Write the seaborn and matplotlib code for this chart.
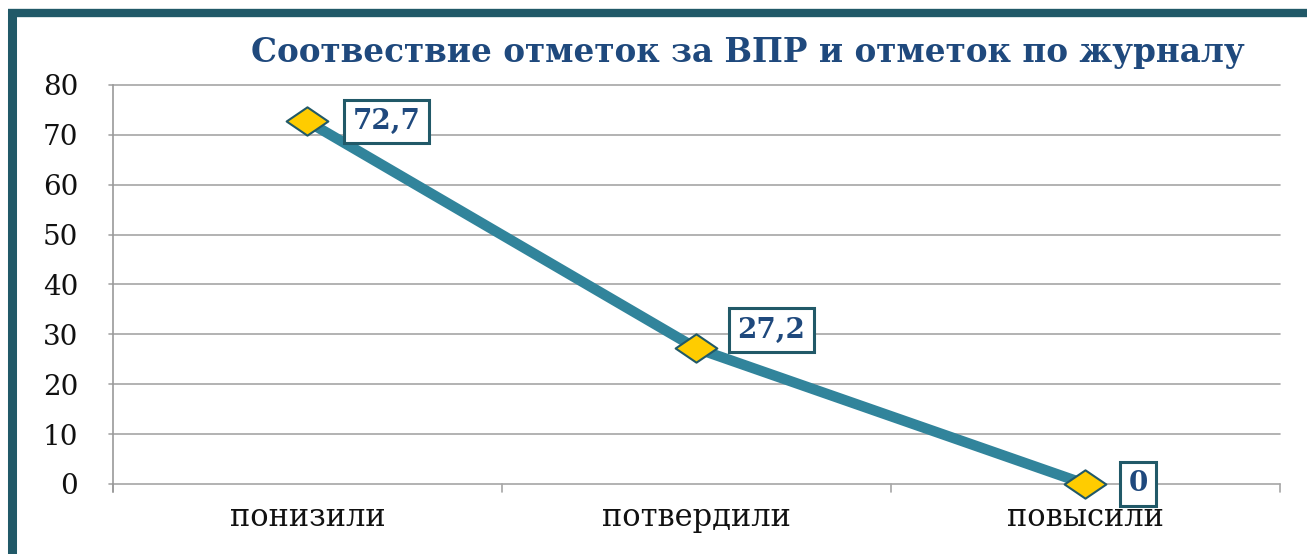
import matplotlib
matplotlib.use("Agg")
import matplotlib.pyplot as plt
import seaborn as sns
import pandas as pd
from matplotlib.path import Path
from matplotlib.lines import Line2D

categories = ["понизили", "потвердили", "повысили"]
values = [72.7, 27.2, 0]
value_labels = ["72,7", "27,2", "0"]
y_ticks = [0, 10, 20, 30, 40, 50, 60, 70, 80]

df = pd.DataFrame({"cat": categories, "val": values})

sns.set_theme(style="white")
plt.rcParams["font.family"] = ["DejaVu Serif", "Liberation Serif"]

fig = plt.figure(figsize=(13.07, 5.54), dpi=100)
ax = fig.add_axes([0.0865, 0.1264, 0.8925, 0.7202])

# diamond, wider than tall
diamond = Path([(-1, 0), (0, 0.68), (1, 0), (0, -0.68), (-1, 0)],
               [Path.MOVETO, Path.LINETO, Path.LINETO, Path.LINETO, Path.CLOSEPOLY])

df["x"] = range(len(categories))
sns.lineplot(data=df, x="x", y="val", ax=ax, color="#31849b", linewidth=7.5,
             marker=diamond, markersize=30, markerfacecolor="#ffcc00",
             markeredgecolor="#215968", markeredgewidth=1.5, zorder=3)
for ln in ax.lines:
    ln.set_clip_on(False)

ax.set_xlim(-0.5, 2.5)
ax.set_ylim(0, 80)
ax.set_yticks(y_ticks)
ax.set_yticklabels([str(t) for t in y_ticks], fontsize=20, color="#111111")
ax.set_xticks(range(len(categories)))
ax.set_xticklabels(categories, fontsize=22, color="#111111")
ax.tick_params(axis="y", length=0, pad=25)
ax.tick_params(axis="x", length=0, pad=13)
ax.set_xlabel("")
ax.set_ylabel("")

for s in ["top", "right", "bottom"]:
    ax.spines[s].set_visible(False)
ax.spines["left"].set_color("#999999")
ax.spines["left"].set_linewidth(1.2)

# gridlines extending slightly left of the axis
for t in y_ticks:
    ax.plot([-0.511, 2.5], [t, t], color="#a6a6a6", lw=1.2, clip_on=False, zorder=1)
# category tick marks below the axis
for b in [-0.5, 0.5, 1.5, 2.5]:
    ax.plot([b, b], [0, -1.6], color="#a6a6a6", lw=1.2, clip_on=False, zorder=1)
ax.plot([-0.5, -0.5], [0, -1.6], color="#999999", lw=1.2, clip_on=False)

offsets = [(79, 0), (75, 18), (53, 0)]
for x, v, lab, off in zip(df["x"], values, value_labels, offsets):
    ax.annotate(lab, (x, v), xytext=off, textcoords="offset pixels",
                ha="center", va="center", fontsize=20, fontweight="bold",
                color="#1f497d", zorder=5,
                bbox=dict(boxstyle="square,pad=0.3", fc="white", ec="#215968", lw=2.2))

fig.text(0.5723, 0.905, "Соотвествие отметок за ВПР и отметок по журналу",
         ha="center", va="center", fontsize=23.5, fontweight="bold", color="#1f497d")

# dark frame on top and left
fig.add_artist(Line2D([8 / 1307, 1], [1 - 13 / 554] * 2, color="#215968", lw=6,
                      transform=fig.transFigure, solid_capstyle="butt"))
fig.add_artist(Line2D([12.5 / 1307] * 2, [1 - 10 / 554, 0], color="#215968", lw=6.5,
                      transform=fig.transFigure, solid_capstyle="butt"))

fig.savefig("out.png", dpi=100)
